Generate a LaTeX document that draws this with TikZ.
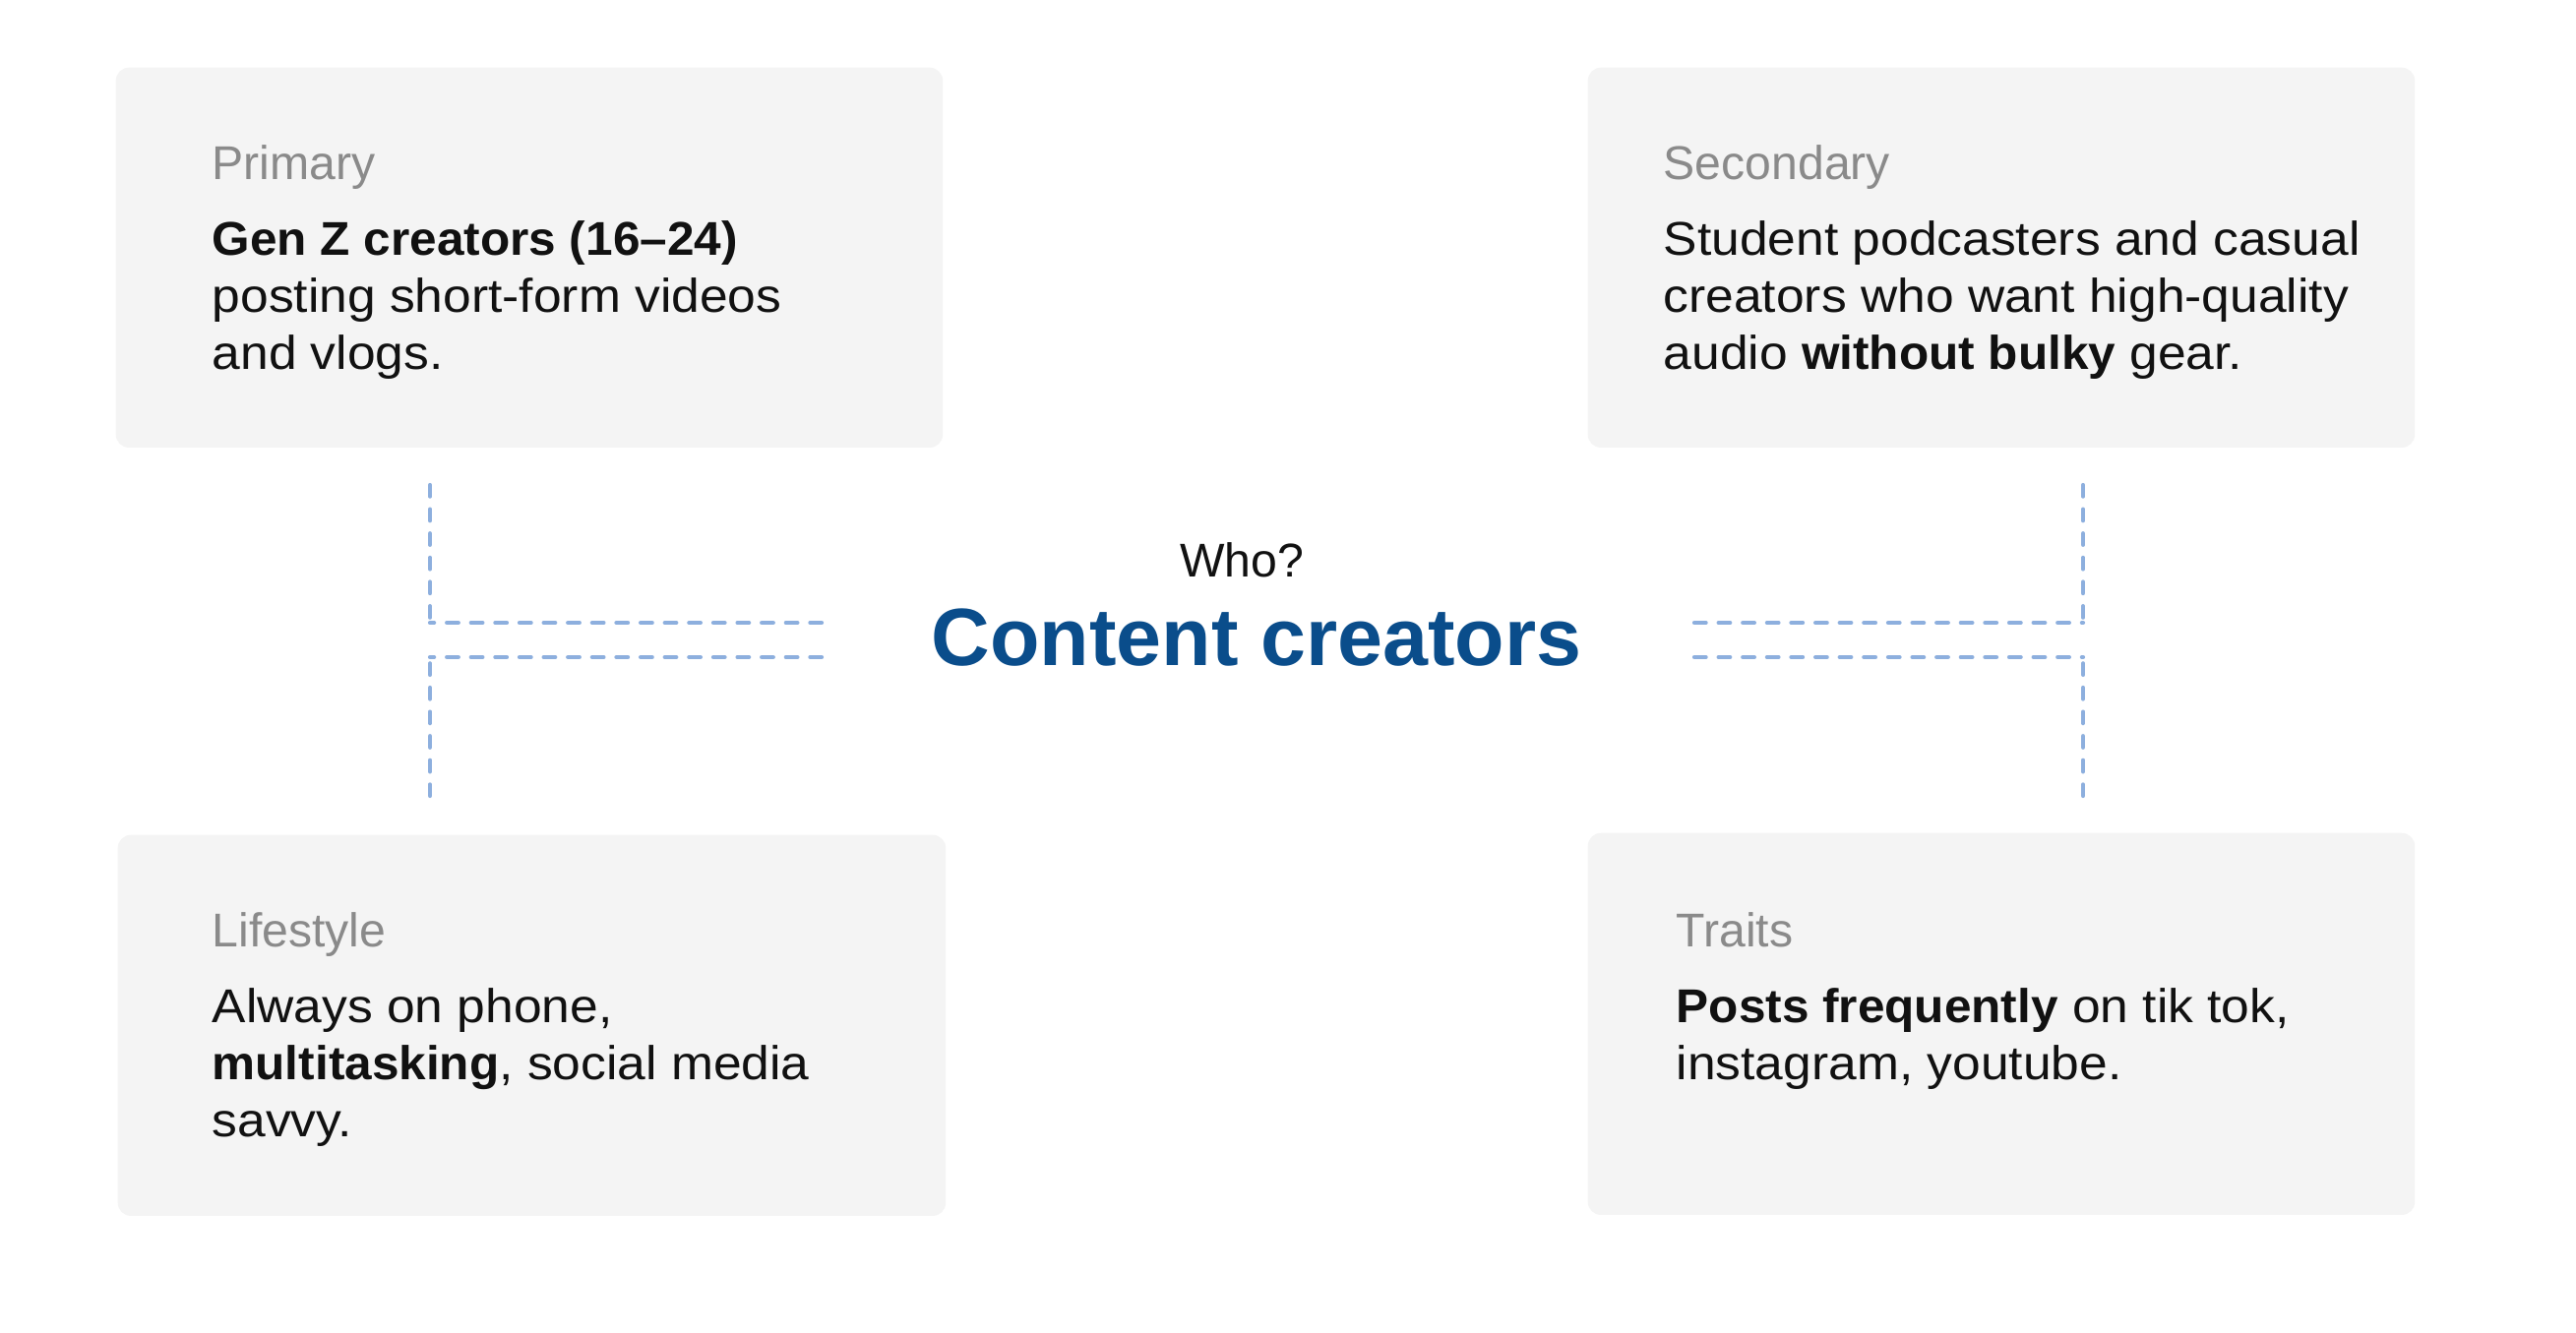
\documentclass[tikz,border=0pt]{standalone}
\usepackage{fontspec}
\setmainfont{Liberation Sans}
\newfontfamily\bodyfam{Liberation Sans}[FakeStretch=1.07]
\newfontfamily\bodyboldfam{Liberation Sans}[FakeStretch=1.028]
\newcommand{\bb}[1]{{\bodyboldfam\bfseries #1}}
\definecolor{boxfill}{HTML}{F4F4F4}
\definecolor{labelgray}{HTML}{8A8A8A}
\definecolor{bodyblack}{HTML}{111111}
\definecolor{headblue}{HTML}{0A4D8B}
\definecolor{dashblue}{HTML}{8DAFDE}
\begin{document}
\begin{tikzpicture}[x=0.01cm,y=-0.01cm,
  card/.style={fill=boxfill,draw=none,rounded corners=3.8pt,inner sep=0pt,anchor=north west},
  lbl/.style={anchor=base west,inner sep=0pt,text=labelgray,font=\fontsize{13.7}{16.5}\selectfont},
  bodyline/.style={anchor=base west,inner sep=0pt,text=bodyblack,font=\bodyfam\fontsize{13.7}{16.5}\selectfont},
  bracket/.style={draw=dashblue,line width=1.2pt,line cap=round,dash pattern=on 3.3pt off 3.7pt}]
\useasboundingbox (0,0) rectangle (2618,1354);
\fill[white] (0,0) rectangle (2618,1354);
% cards
\node[card,minimum width=8.4cm,minimum height=3.86cm] (prim) at (117,68) {};
\node[card,minimum width=8.4cm,minimum height=3.86cm] (sec) at (1613,68) {};
\node[card,minimum width=8.41cm,minimum height=3.87cm] (life) at (119,848) {};
\node[card,minimum width=8.4cm,minimum height=3.88cm] (trait) at (1613,846) {};
% primary
\node[lbl] (primlbl) at (215,182) {Primary};
\node[bodyline] (prim1) at (215,259) {\bb{Gen Z creators (16–24)}};
\node[bodyline] (prim2) at (215,317) {posting short-form videos};
\node[bodyline] (prim3) at (215,375) {and vlogs.};
% secondary
\node[lbl] (seclbl) at (1690,182) {Secondary};
\node[bodyline] (sec1) at (1690,259) {Student podcasters and casual};
\node[bodyline] (sec2) at (1690,317) {creators who want high-quality};
\node[bodyline] (sec3) at (1690,375) {audio \bb{without bulky} gear.};
% lifestyle
\node[lbl] (lifelbl) at (215,962) {Lifestyle};
\node[bodyline] (life1) at (215,1039) {Always on phone,};
\node[bodyline] (life2) at (215,1097) {\bb{multitasking}, social media};
\node[bodyline] (life3) at (215,1155) {savvy.};
% traits
\node[lbl] (traitlbl) at (1703,962) {Traits};
\node[bodyline] (trait1) at (1703,1039) {\bb{Posts frequently} on tik tok,};
\node[bodyline] (trait2) at (1703,1097) {instagram, youtube.};
% center
\node[anchor=base,inner sep=0pt,text=bodyblack,font=\fontsize{13.7}{16.5}\selectfont] (who) at (1262,586) {Who?};
\node[anchor=base,inner sep=0pt,text=headblue,font=\bfseries\fontsize{23.5}{28}\selectfont] (title) at (1277,676) {Content creators};
% bracket coordinates
\coordinate (la) at (437,493);
\coordinate (lb) at (437,633);
\coordinate (lc) at (835,633);
\coordinate (ld) at (835,668);
\coordinate (le) at (437,668);
\coordinate (lf) at (437,809);
\coordinate (ra) at (2117,493);
\coordinate (rb) at (2117,633);
\coordinate (rc) at (1722,633);
\coordinate (rd) at (1722,668);
\coordinate (re) at (2117,668);
\coordinate (rf) at (2117,809);
\draw[bracket] (la) -- (lb);
\draw[bracket] (lc) -- (lb);
\draw[bracket] (ld) -- (le);
\draw[bracket] (lf) -- (le);
\draw[bracket] (ra) -- (rb);
\draw[bracket] (rc) -- (rb);
\draw[bracket] (rd) -- (re);
\draw[bracket] (rf) -- (re);
\end{tikzpicture}
\end{document}
